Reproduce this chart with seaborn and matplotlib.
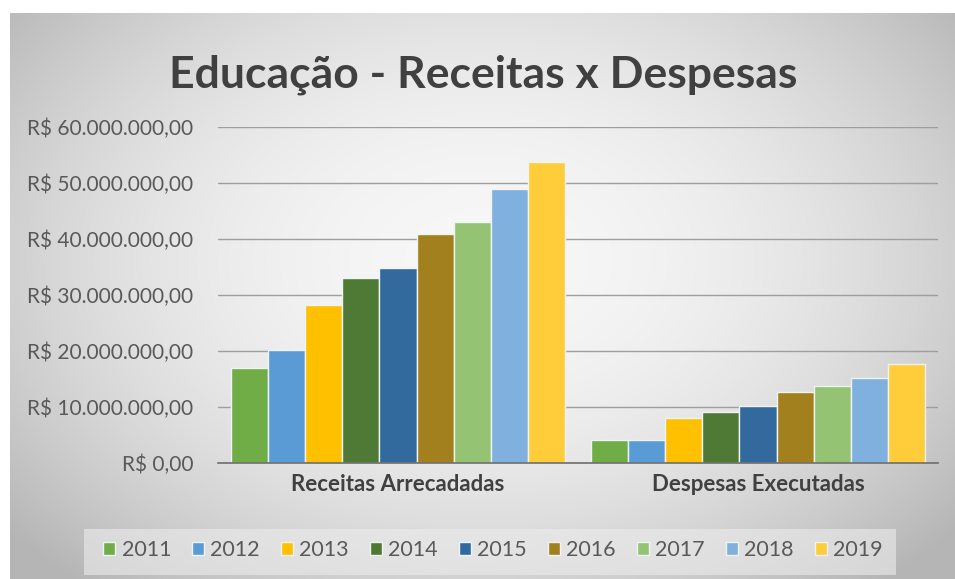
import numpy as np
import pandas as pd
import matplotlib
matplotlib.use("Agg")
import matplotlib.pyplot as plt
from matplotlib.ticker import FuncFormatter
from matplotlib.patches import Rectangle
import seaborn as sns

# ---- data ----
categorias = ["Receitas Arrecadadas", "Despesas Executadas"]
anos = ["2011", "2012", "2013", "2014", "2015", "2016", "2017", "2018", "2019"]
receitas = [17.0e6, 20.2e6, 28.2e6, 33.1e6, 34.9e6, 40.9e6, 43.1e6, 49.0e6, 53.8e6]
despesas = [4.1e6, 4.1e6, 8.0e6, 9.1e6, 10.2e6, 12.7e6, 13.7e6, 15.2e6, 17.6e6]
cores = ["#70AD47", "#5B9BD5", "#FFC000", "#4E7A35", "#336A9E",
         "#A3801E", "#94C373", "#7FB0DE", "#FFCC3A"]
titulo = "Educação - Receitas x Despesas"

df = pd.DataFrame({
    "categoria": [categorias[0]] * len(anos) + [categorias[1]] * len(anos),
    "ano": anos + anos,
    "valor": receitas + despesas,
})

sns.set_theme(style="white")
plt.rcParams["font.family"] = ["Lato", "DejaVu Sans"]

W, H = 955, 579
fig = plt.figure(figsize=(W / 100, H / 100), dpi=100)
fig.patch.set_facecolor("white")

# background radial gradient (chart area), white border top/left
bg = fig.add_axes([0, 0, 1, 1], zorder=-10)
yy, xx = np.mgrid[0:H, 0:W]
cx, cy = 480, 260
r2 = ((xx - cx) / 520.0) ** 2 + ((yy - cy) / 360.0) ** 2
g = 247 - 66 * np.clip(r2, 0, 1.4) / 1.4
img = np.dstack([g, g, g]) / 255.0
img[:13, :, :] = 1.0
img[:, :10, :] = 1.0
bg.imshow(img, aspect="auto", extent=[0, W, H, 0])
bg.set_xlim(0, W); bg.set_ylim(H, 0)
bg.axis("off")
# legend box
bg.add_patch(Rectangle((84, 529), 812, 46, facecolor="#ECECEC", edgecolor="none", alpha=0.6))

ax = fig.add_axes([218 / W, 1 - 463 / H, 720 / W, (463 - 127) / H])
ax.patch.set_alpha(0)

sns.barplot(data=df, x="categoria", y="valor", hue="ano", palette=cores,
            width=0.93, saturation=1, edgecolor="#EEF4F4", linewidth=1.0,
            ax=ax, legend=True)

ax.set_xlim(-0.5, 1.5)
ax.set_ylim(0, 60e6)
ax.set_yticks(np.arange(0, 60e6 + 1, 10e6))
ax.yaxis.set_major_formatter(FuncFormatter(
    lambda v, p: "R$ " + f"{v:,.2f}".replace(",", "X").replace(".", ",").replace("X", ".")))
ax.grid(axis="y", color="#9E9E9E", linewidth=1.0)
ax.set_axisbelow(True)
for s in ["top", "right", "left"]:
    ax.spines[s].set_visible(False)
ax.spines["bottom"].set_color("#6E6E6E")
ax.spines["bottom"].set_linewidth(1.2)
ax.tick_params(axis="y", length=0, pad=18, labelsize=15, labelcolor="#595959")
ax.tick_params(axis="x", length=0, pad=8, labelsize=16, labelcolor="#404040")
for t in ax.get_xticklabels():
    t.set_fontweight("bold")
ax.set_xlabel("")
ax.set_ylabel("")

leg = ax.legend(loc="center", bbox_to_anchor=(493 / W, 1 - 550 / H),
                bbox_transform=fig.transFigure, ncol=9, frameon=False,
                handlelength=0.55, handleheight=0.55, handletextpad=0.3,
                columnspacing=0.98, fontsize=15.5)
for t in leg.get_texts():
    t.set_color("#595959")

fig.text(483 / W, 1 - 75 / H, titulo, ha="center", va="center",
         fontsize=32, fontweight="bold", color="#404040")

fig.savefig("out.png", dpi=100)
